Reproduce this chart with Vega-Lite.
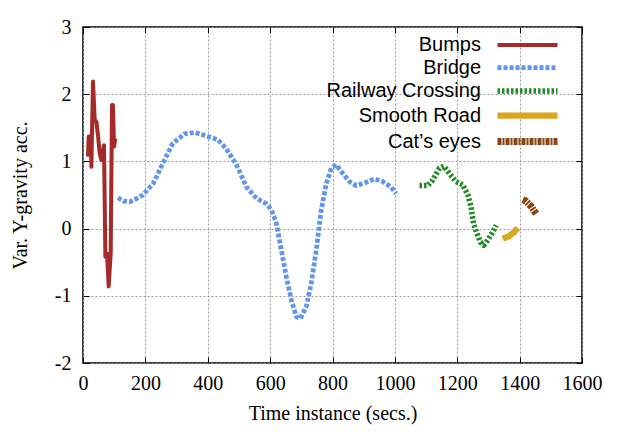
{
  "$schema": "https://vega.github.io/schema/vega-lite/v6.json",
  "width": 499,
  "height": 336,
  "autosize": {"type": "none"},
  "padding": {"left": 83, "top": 27, "right": 40, "bottom": 73},
  "background": "white",
  "config": {
    "view": {"stroke": "black", "strokeWidth": 1.5},
    "axis": {
      "labelFont": "Liberation Serif",
      "labelFontSize": 20,
      "labelColor": "black",
      "labelOverlap": false,
      "labelFlush": false,
      "titleFont": "Liberation Serif",
      "titleFontSize": 20,
      "titleFontWeight": "normal",
      "titleColor": "black",
      "domain": false,
      "tickColor": "black",
      "tickSize": -6,
      "tickWidth": 1,
      "grid": true,
      "gridColor": "#999999",
      "gridDash": [2, 2],
      "gridWidth": 1
    },
    "legend": {
      "labelFont": "Liberation Sans",
      "labelFontSize": 20,
      "labelColor": "black"
    }
  },
  "data": {
    "values": [
      {"t": 16, "v": 1.07, "s": "Bumps"},
      {"t": 18.3, "v": 1.37, "s": "Bumps"},
      {"t": 24.7, "v": 1.37, "s": "Bumps"},
      {"t": 26.9, "v": 0.92, "s": "Bumps"},
      {"t": 32, "v": 2.19, "s": "Bumps"},
      {"t": 37.5, "v": 1.62, "s": "Bumps"},
      {"t": 42.9, "v": 1.59, "s": "Bumps"},
      {"t": 48, "v": 1.39, "s": "Bumps"},
      {"t": 53.5, "v": 1.12, "s": "Bumps"},
      {"t": 59, "v": 1.02, "s": "Bumps"},
      {"t": 67.3, "v": 1.24, "s": "Bumps"},
      {"t": 71.8, "v": -0.42, "s": "Bumps"},
      {"t": 77, "v": -0.37, "s": "Bumps"},
      {"t": 82.3, "v": -0.86, "s": "Bumps"},
      {"t": 88.8, "v": -0.37, "s": "Bumps"},
      {"t": 93, "v": 1.84, "s": "Bumps"},
      {"t": 96, "v": 1.84, "s": "Bumps"},
      {"t": 99.5, "v": 1.22, "s": "Bumps"},
      {"t": 103.7, "v": 1.34, "s": "Bumps"},

      {"t": 112, "v": 0.46, "s": "Bridge"},
      {"t": 130, "v": 0.41, "s": "Bridge"},
      {"t": 150, "v": 0.40, "s": "Bridge"},
      {"t": 170, "v": 0.44, "s": "Bridge"},
      {"t": 192, "v": 0.50, "s": "Bridge"},
      {"t": 225, "v": 0.67, "s": "Bridge"},
      {"t": 256, "v": 0.97, "s": "Bridge"},
      {"t": 288, "v": 1.27, "s": "Bridge"},
      {"t": 326, "v": 1.41, "s": "Bridge"},
      {"t": 358, "v": 1.43, "s": "Bridge"},
      {"t": 395, "v": 1.38, "s": "Bridge"},
      {"t": 433, "v": 1.32, "s": "Bridge"},
      {"t": 459, "v": 1.19, "s": "Bridge"},
      {"t": 492, "v": 0.95, "s": "Bridge"},
      {"t": 524, "v": 0.62, "s": "Bridge"},
      {"t": 556, "v": 0.45, "s": "Bridge"},
      {"t": 588, "v": 0.37, "s": "Bridge"},
      {"t": 604, "v": 0.28, "s": "Bridge"},
      {"t": 620, "v": 0.08, "s": "Bridge"},
      {"t": 636, "v": -0.32, "s": "Bridge"},
      {"t": 652, "v": -0.72, "s": "Bridge"},
      {"t": 668, "v": -1.06, "s": "Bridge"},
      {"t": 684, "v": -1.31, "s": "Bridge"},
      {"t": 697, "v": -1.34, "s": "Bridge"},
      {"t": 716, "v": -1.16, "s": "Bridge"},
      {"t": 732, "v": -0.81, "s": "Bridge"},
      {"t": 748, "v": -0.32, "s": "Bridge"},
      {"t": 764, "v": 0.28, "s": "Bridge"},
      {"t": 780, "v": 0.67, "s": "Bridge"},
      {"t": 796, "v": 0.90, "s": "Bridge"},
      {"t": 812, "v": 0.95, "s": "Bridge"},
      {"t": 833, "v": 0.82, "s": "Bridge"},
      {"t": 854, "v": 0.70, "s": "Bridge"},
      {"t": 876, "v": 0.64, "s": "Bridge"},
      {"t": 903, "v": 0.68, "s": "Bridge"},
      {"t": 935, "v": 0.74, "s": "Bridge"},
      {"t": 961, "v": 0.70, "s": "Bridge"},
      {"t": 988, "v": 0.62, "s": "Bridge"},
      {"t": 1004, "v": 0.52, "s": "Bridge"},

      {"t": 1079, "v": 0.64, "s": "Railway Crossing"},
      {"t": 1105, "v": 0.64, "s": "Railway Crossing"},
      {"t": 1121, "v": 0.72, "s": "Railway Crossing"},
      {"t": 1143, "v": 0.90, "s": "Railway Crossing"},
      {"t": 1157, "v": 0.93, "s": "Railway Crossing"},
      {"t": 1175, "v": 0.82, "s": "Railway Crossing"},
      {"t": 1196, "v": 0.70, "s": "Railway Crossing"},
      {"t": 1218, "v": 0.65, "s": "Railway Crossing"},
      {"t": 1234, "v": 0.50, "s": "Railway Crossing"},
      {"t": 1244, "v": 0.33, "s": "Railway Crossing"},
      {"t": 1252, "v": 0.08, "s": "Railway Crossing"},
      {"t": 1263, "v": -0.07, "s": "Railway Crossing"},
      {"t": 1274, "v": -0.20, "s": "Railway Crossing"},
      {"t": 1285, "v": -0.25, "s": "Railway Crossing"},
      {"t": 1298, "v": -0.17, "s": "Railway Crossing"},
      {"t": 1314, "v": -0.05, "s": "Railway Crossing"},
      {"t": 1325, "v": 0.05, "s": "Railway Crossing"},

      {"t": 1346, "v": -0.15, "s": "Smooth Road"},
      {"t": 1367, "v": -0.11, "s": "Smooth Road"},
      {"t": 1383, "v": -0.05, "s": "Smooth Road"},
      {"t": 1394, "v": 0.01, "s": "Smooth Road"},

      {"t": 1410, "v": 0.43, "s": "Cat’s eyes"},
      {"t": 1420, "v": 0.41, "s": "Cat’s eyes"},
      {"t": 1437, "v": 0.33, "s": "Cat’s eyes"},
      {"t": 1453, "v": 0.22, "s": "Cat’s eyes"}
    ]
  },
  "resolve": {"axis": {"x": "independent", "y": "independent"}},
  "layer": [
    {
      "mark": {"type": "line", "strokeCap": "butt", "strokeJoin": "round"},
      "encoding": {
        "x": {
          "field": "t", "type": "quantitative",
          "scale": {"domain": [0, 1600], "nice": false},
          "axis": {"values": [0, 200, 400, 600, 800, 1000, 1200, 1400, 1600], "labelExpr": "'' + datum.value", "title": "Time instance (secs.)", "labelPadding": 16, "titlePadding": 10}
        },
        "y": {
          "field": "v", "type": "quantitative",
          "scale": {"domain": [-2, 3], "nice": false},
          "axis": {"values": [-2, -1, 0, 1, 2, 3], "labelExpr": "'' + datum.value", "title": "Var. Y-gravity acc.", "labelPadding": 18, "titlePadding": 24}
        },
        "color": {
          "field": "s", "type": "nominal",
          "scale": {
            "domain": ["Bumps", "Bridge", "Railway Crossing", "Smooth Road", "Cat’s eyes"],
            "range": ["#A52A2A", "#6495ED", "#228B22", "#DAA520", "#8B4513"]
          },
          "legend": {
            "title": null,
            "orient": "none",
            "legendX": 326,
            "legendY": 6,
            "labelAlign": "right",
            "labelOffset": -60,
            "symbolOffset": 105,
            "symbolSize": 400,
            "symbolType": "M-3,0H3",
            "rowPadding": -6
          }
        },
        "strokeDash": {
          "field": "s", "type": "nominal",
          "scale": {
            "domain": ["Bumps", "Bridge", "Railway Crossing", "Smooth Road", "Cat’s eyes"],
            "range": [[1, 0], [4, 2], [2.5, 2], [1, 0], [4, 1, 2, 1]]
          }
        },
        "strokeWidth": {
          "field": "s", "type": "nominal",
          "scale": {
            "domain": ["Bumps", "Bridge", "Railway Crossing", "Smooth Road", "Cat’s eyes"],
            "range": [4, 7, 3, 3, 5]
          }
        }
      }
    },
    {
      "mark": {"type": "point", "opacity": 0},
      "encoding": {
        "x": {
          "field": "t", "type": "quantitative",
          "scale": {"domain": [0, 1600], "nice": false},
          "axis": {"orient": "top", "values": [0, 200, 400, 600, 800, 1000, 1200, 1400, 1600], "labels": false, "grid": false, "title": null}
        },
        "y": {
          "field": "v", "type": "quantitative",
          "scale": {"domain": [-2, 3], "nice": false},
          "axis": {"orient": "right", "values": [-2, -1, 0, 1, 2, 3], "labels": false, "grid": false, "title": null}
        }
      }
    }
  ]
}
